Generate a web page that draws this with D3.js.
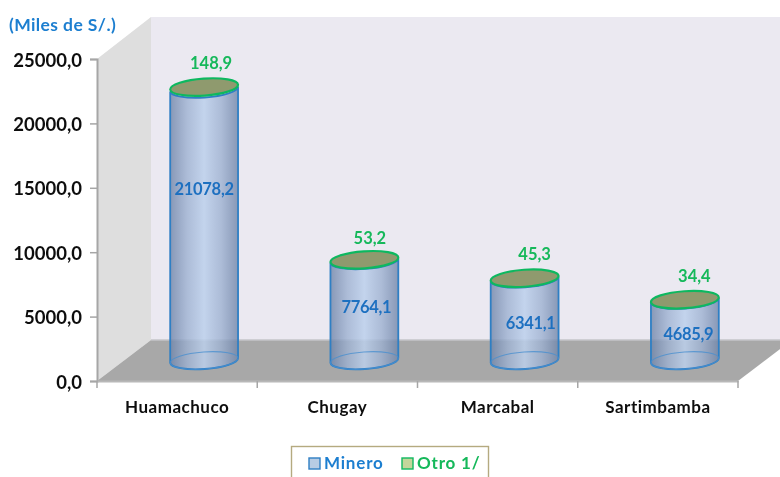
<!DOCTYPE html>
<html><head><meta charset="utf-8">
<script src="https://cdn.jsdelivr.net/npm/d3@7"></script>
<style>html,body{margin:0;background:#fff;overflow:hidden}svg{display:block}text{font-family:Lato,"Open Sans",sans-serif}</style>
</head><body><svg id="c" width="780" height="477"></svg>
<script>
const categories = ["Huamachuco","Chugay","Marcabal","Sartimbamba"];
const minero = [21078.2,7764.1,6341.1,4685.9];
const otro = [148.9,53.2,45.3,34.4];
const minLabels = ["21078,2","7764,1","6341,1","4685,9"];
const otroLabels = ["148,9","53,2","45,3","34,4"];
const yTicks = [0,5000,10000,15000,20000,25000];
const legendNames = ["Minero","Otro 1/"];

const svg = d3.select("#c"), W=780,H=477;
const x0=97,x1=738,y0=381,yT=59,dx=54,dy=41,wallTop=17;
const y = d3.scaleLinear().domain([0,25000]).range([y0,yT]);
const x = d3.scaleBand().domain(categories).range([x0,x1]);
const loc = d3.formatLocale({decimal:",",thousands:"",grouping:[3],currency:["",""]});
const fmt = loc.format(".1f");
const defs = svg.append("defs");
const grad = defs.append("linearGradient").attr("id","cyl");
[[0,"#6f84a8",.8],[.25,"#9db1d1",.8],[.5,"#bcd0ec",.85],[.75,"#9db1d1",.8],[1,"#6f84a8",.8]]
 .forEach(s=>grad.append("stop").attr("offset",s[0]).attr("stop-color",s[1]).attr("stop-opacity",s[2]));
defs.append("filter").attr("id","soft").append("feGaussianBlur").attr("stdDeviation",.4);

const g = svg.append("g").attr("filter","url(#soft)");
// walls and floor
g.append("rect").attr("x",x0+dx).attr("y",wallTop).attr("width",W-x0-dx).attr("height",y0-dy-wallTop).attr("fill","#ebe9f1");
g.append("polygon").attr("points",[[x0,yT],[x0+dx,wallTop],[x0+dx,y0-dy],[x0,y0]].join(" ")).attr("fill","#dedede");
g.append("polygon").attr("points",[[x0,y0],[x0+dx,y0-dy],[x1+dx,y0-dy],[x1,y0]].join(" ")).attr("fill","#a8a8a8");
g.append("line").attr("x1",x0+dx).attr("x2",W).attr("y1",y0-dy).attr("y2",y0-dy).attr("stroke","#c4c4c8").attr("stroke-width",1.5);

// axes
const ay = g.append("g").attr("transform",`translate(${x0},0)`).call(d3.axisLeft(y).tickValues(yTicks).tickFormat(fmt).tickSize(7).tickPadding(8));
ay.select(".domain").attr("stroke","#a6a6a6").attr("stroke-width",2);
ay.selectAll(".tick line").attr("stroke","#a6a6a6").attr("stroke-width",1.5);
ay.selectAll("text").attr("font-size",18.5).attr("font-weight",700).attr("fill","#111").attr("dy","0.38em");
const ax = g.append("g").attr("transform",`translate(0,${y0})`).call(d3.axisBottom(x).tickSize(0).tickPadding(20));
ax.select(".domain").attr("stroke","#b8b8b8").attr("stroke-width",2);
ax.selectAll("text").attr("font-size",17).attr("font-weight",700).attr("fill","#111").attr("letter-spacing",.5);
ax.selectAll(".edge").data(d3.range(categories.length+1)).enter().append("line").attr("class","edge")
  .attr("x1",i=>x0+i*x.step()).attr("x2",i=>x0+i*x.step()).attr("y1",0).attr("y2",7).attr("stroke","#a6a6a6").attr("stroke-width",1.5);

// cylinders
const rx=34, ry=8.5, tilt=-4, t=tilt*Math.PI/180;
const ex=rx*Math.cos(t), ey=rx*Math.sin(t);
const cx = d=>x(d)+x.bandwidth()/2+dx/2;
const off = -dy/2;
function body(c,yb,yt){
  return `M${c-ex},${yt-ey}L${c-ex},${yb-ey}A${rx},${ry} ${tilt} 0 0 ${c+ex},${yb+ey}L${c+ex},${yt+ey}A${rx},${ry} ${tilt} 0 1 ${c-ex},${yt-ey}Z`;
}
const bars = g.selectAll(".cyl").data(categories).enter().append("g").attr("class","cyl");
bars.append("path").attr("d",(d,i)=>body(cx(d),y(0)+off,y(minero[i])+off)).attr("fill","url(#cyl)").attr("stroke","#2f7fc4").attr("stroke-width",1.8);
bars.append("ellipse").attr("cx",d=>cx(d)).attr("cy",y(0)+off).attr("rx",rx).attr("ry",ry)
  .attr("transform",d=>`rotate(${tilt} ${cx(d)} ${y(0)+off})`).attr("fill","none").attr("stroke","#4a90d0").attr("stroke-width",1.1).attr("opacity",.8);
bars.append("ellipse").attr("cx",d=>cx(d)).attr("cy",(d,i)=>y(minero[i]+otro[i])+off).attr("rx",rx).attr("ry",ry)
  .attr("transform",(d,i)=>`rotate(${tilt} ${cx(d)} ${y(minero[i]+otro[i])+off})`)
  .attr("fill","#8f9a6e").attr("stroke","#10b860").attr("stroke-width",2.2);

// data labels (hand-placed in the original)
const minNudge=[[0,-36],[2,-3],[6,4],[3.5,4]], otroNudge=[[7,-23.5],[5.5,-21.5],[10,-24.5],[9.5,-23.5]];
g.selectAll(".ml").data(categories).enter().append("text").attr("class","ml")
  .attr("x",(d,i)=>cx(d)+minNudge[i][0]).attr("y",(d,i)=>(y(0)+y(minero[i]))/2+off+minNudge[i][1])
  .attr("dy","0.35em").attr("text-anchor","middle").attr("font-size",16.5).attr("font-weight",700).attr("letter-spacing",-.3).attr("fill","#1f70c0").text((d,i)=>minLabels[i]);
g.selectAll(".ol").data(categories).enter().append("text").attr("class","ol")
  .attr("x",(d,i)=>cx(d)+otroNudge[i][0]).attr("y",(d,i)=>y(minero[i]+otro[i])+off+otroNudge[i][1])
  .attr("dy","0.35em").attr("text-anchor","middle").attr("font-size",16.5).attr("font-weight",700).attr("fill","#14b85a").text((d,i)=>otroLabels[i]);

// unit title
g.append("text").attr("x",9).attr("y",31).attr("font-size",17.5).attr("font-weight",700).attr("letter-spacing",.4).attr("fill","#1f7fd0").text("(Miles de S/.)");

// legend
g.append("rect").attr("x",291.5).attr("y",446.5).attr("width",197).attr("height",40).attr("fill","#fff").attr("stroke","#b5aa80").attr("stroke-width",1.4);
const lx=[309,402], sw=[["#b8cce4","#2f7fc4"],["#c3d69b","#10b860"]], lc=["#1f7fd0","#14b85a"];
legendNames.forEach((n,i)=>{
  g.append("rect").attr("x",lx[i]).attr("y",458).attr("width",11).attr("height",11).attr("fill",sw[i][0]).attr("stroke",sw[i][1]).attr("stroke-width",1.4);
  g.append("text").attr("x",lx[i]+15).attr("y",469).attr("font-size",17).attr("font-weight",700).attr("letter-spacing",.8).attr("fill",lc[i]).text(n);
});
</script></body></html>
